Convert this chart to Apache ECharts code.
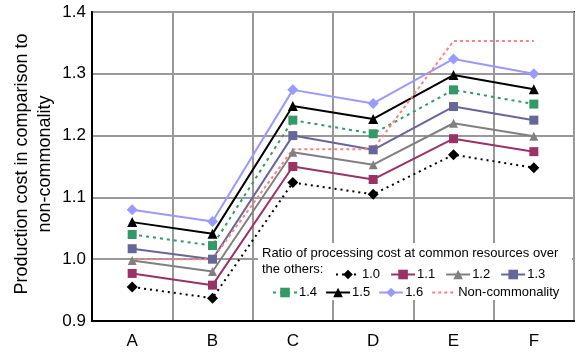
<!DOCTYPE html>
<html><head><meta charset="utf-8">
<script src="https://cdn.jsdelivr.net/npm/echarts@6/dist/echarts.min.js"></script>
<style>html,body{margin:0;padding:0;background:#fff}#c{width:575px;height:353px}</style>
</head><body><div id="c"></div>
<script>
const categories = ['A','B','C','D','E','F'];
const r10 = [0.955, 0.937, 1.124, 1.105, 1.169, 1.148];
const r11 = [0.977, 0.958, 1.150, 1.129, 1.195, 1.174];
const r12 = [0.998, 0.980, 1.173, 1.153, 1.220, 1.199];
const r13 = [1.017, 1.000, 1.200, 1.177, 1.247, 1.225];
const r14 = [1.040, 1.022, 1.225, 1.203, 1.274, 1.251];
const r15 = [1.060, 1.041, 1.248, 1.227, 1.298, 1.275];
const r16 = [1.080, 1.061, 1.274, 1.252, 1.324, 1.300];
const nonComm = [1.000, 1.000, 1.178, 1.178, 1.353, 1.353];
const yTicks = [0.9, 1.0, 1.1, 1.2, 1.3, 1.4];
const seriesNames = ['1.0','1.1','1.2','1.3','1.4','1.5','1.6','Non-commonality'];
const yTitle = 'Production cost in comparison to\nnon-commonality';

const FONT = '"Liberation Sans", Arial, sans-serif';
function mk(name, data, color, symbol, size, lineType) {
  return {
    name, type: 'line', data,
    symbol: symbol, symbolSize: size,
    showSymbol: symbol !== 'none',
    itemStyle: { color },
    lineStyle: { color, width: 2, type: lineType },
    emphasis: { disabled: true },
    animation: false
  };
}
const legendText = { fontSize: 13, fontFamily: FONT, color: '#000', padding: [0,0,0,-3] };
const chart = echarts.init(document.getElementById('c'));
chart.setOption({
  animation: false,
  grid: { left: 92, right: 1, top: 12, bottom: 32, show: true, borderColor: '#000', borderWidth: 2, backgroundColor: 'transparent' },
  xAxis: {
    type: 'category', data: categories, boundaryGap: true,
    axisLine: { lineStyle: { color: '#000', width: 2 } },
    axisTick: { show: false },
    axisLabel: { color: '#000', fontSize: 17, fontFamily: FONT, margin: 12 },
    splitLine: { show: true, lineStyle: { color: '#999', width: 2 } }
  },
  yAxis: {
    type: 'value', min: yTicks[0], max: yTicks[yTicks.length-1], interval: 0.1,
    axisLine: { show: true, lineStyle: { color: '#000', width: 2 } },
    axisTick: { show: false },
    axisLabel: { color: '#000', fontSize: 17, fontFamily: FONT, margin: 6, formatter: v => v.toFixed(1) },
    splitLine: { show: true, lineStyle: { color: '#999', width: 2 } }
  },
  graphic: [
    { type: 'text', x: 34, y: 164, rotation: Math.PI / 2,
      style: { text: yTitle, font: '18px ' + FONT, lineHeight: 23, fill: '#000', align: 'center', verticalAlign: 'middle' } },
    { type: 'rect', z: 50, shape: { x: 258, y: 243, width: 314, height: 57 }, style: { fill: '#fff' } },
    { type: 'text', z: 51, left: 262, top: 247, style: { text: 'Ratio of processing cost at common resources over', font: '13px ' + FONT, fill: '#000' } },
    { type: 'text', z: 51, left: 262, top: 263, style: { text: 'the others:', font: '13px ' + FONT, fill: '#000' } }
  ],
  legend: [
    { data: seriesNames.slice(0,4), left: 330, top: 263, width: 300, z: 60, itemWidth: 24, itemHeight: 12, itemGap: 10,
      textStyle: legendText, selectedMode: false },
    { data: [seriesNames[4], seriesNames[5], seriesNames[6],
             { name: seriesNames[7], itemStyle: { color: 'rgba(0,0,0,0)', borderWidth: 0 } }],
      left: 267, top: 281, width: 400, z: 60, itemWidth: 24, itemHeight: 12, itemGap: 8,
      textStyle: legendText, selectedMode: false }
  ],
  series: [
    mk('1.0', r10, '#000000', 'diamond', 11, [2,4]),
    mk('1.1', r11, '#993366', 'rect', 9, 'solid'),
    mk('1.2', r12, '#808080', 'triangle', 9, 'solid'),
    mk('1.3', r13, '#666699', 'rect', 9, 'solid'),
    mk('1.4', r14, '#339966', 'rect', 9, [3,4]),
    mk('1.5', r15, '#000000', 'triangle', 10, 'solid'),
    mk('1.6', r16, '#9999ff', 'diamond', 11, 'solid'),
    mk('Non-commonality', nonComm, '#ff8080', 'none', 0, [3,3])
  ]
});
</script></body></html>
